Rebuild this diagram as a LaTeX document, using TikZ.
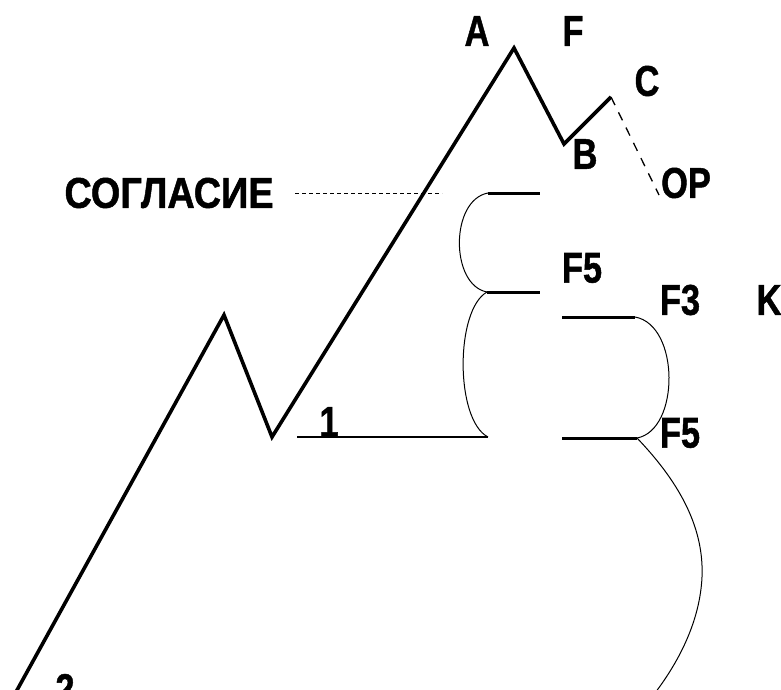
\documentclass[tikz,border=0pt]{standalone}
\usepackage{fontspec}
\setmainfont{Liberation Sans}[BoldFeatures={FakeBold=1.2}]
\begin{document}
\begin{tikzpicture}[x=1pt,y=-1pt,
  lbl/.style={inner sep=0pt, font=\bfseries\fontsize{43}{43}\selectfont},
  heavy/.style={line width=3.6pt, line join=miter, line cap=butt},
  bar/.style={line width=3pt},
  thinarc/.style={line width=1pt},
  baseln/.style={line width=1.6pt},
  dotline/.style={line width=0.9pt, dash pattern=on 4pt off 3pt},
  dashln/.style={line width=1.3pt, dash pattern=on 9pt off 8pt}]
\useasboundingbox (0,0) rectangle (781,690);
\clip (0,0) rectangle (781,690);
% main zigzag points
\coordinate (p0) at (11,701);
\coordinate (p1) at (224,315);
\coordinate (p2) at (272,437);
\coordinate (pA) at (514,48);
\coordinate (pB) at (564,144);
\coordinate (pC) at (611,97);
\coordinate (pOP) at (659,195);
% right structure points
\coordinate (t1l) at (488,193);
\coordinate (t1r) at (540,193);
\coordinate (t2l) at (487,292);
\coordinate (t2r) at (540,292);
\coordinate (b1l) at (297,437);
\coordinate (b1r) at (488,437);
\coordinate (f3l) at (562,317);
\coordinate (f3r) at (635,317);
\coordinate (f5l) at (562,438);
\coordinate (f5r) at (637,438);
\coordinate (bend) at (655,693);
\coordinate (sgl1) at (295,193);
\coordinate (sgl2) at (442,193);
% labels
\node[lbl] (lA) at (477,31) {\scalebox{0.8}[1]{A}};
\node[lbl] (lF) at (573,31) {\scalebox{0.8}[1]{F}};
\node[lbl] (lC) at (647,81) {\scalebox{0.8}[1]{C}};
\node[lbl] (lB) at (585,154) {\scalebox{0.8}[1]{B}};
\node[lbl] (lOP) at (686,183) {\scalebox{0.8}[1]{OP}};
\node[lbl] (lS) at (169,193) {\scalebox{0.88}[1]{СОГЛАСИЕ}};
\node[lbl] (lF5a) at (582,268) {\scalebox{0.8}[1]{F5}};
\node[lbl] (lF3) at (680,300) {\scalebox{0.8}[1]{F3}};
\node[lbl] (lK) at (769,300) {\scalebox{0.8}[1]{K}};
\node[lbl] (lF5b) at (680,433) {\scalebox{0.8}[1]{F5}};
\node[lbl] (l1) at (329,422) {\scalebox{0.8}[1]{1}};
\node[lbl] (l2) at (65,689) {\scalebox{0.8}[1]{2}};
% main zigzag
\draw[heavy] (p0) -- (p1) -- (p2) -- (pA) -- (pB) -- (pC);
\draw[dashln] (pC) -- (pOP);
\draw[dotline] (sgl1) -- (sgl2);
% bars
\draw[bar] (t1l) -- (t1r);
\draw[bar] (t2l) -- (t2r);
\draw[bar] (f3l) -- (f3r);
\draw[bar] (f5l) -- (f5r);
\draw[baseln] (b1l) -- (b1r);
% arcs
\draw[thinarc] (t1l) .. controls (450,200) and (450,285) .. (t2l);
\draw[thinarc] (t2l) .. controls (455,310) and (455,420) .. (b1r);
\draw[thinarc] (f3r) .. controls (680,325) and (680,430) .. (f5r);
\draw[thinarc] (f5r) .. controls (682,485) and (704,530) .. (702,577)
  .. controls (700,620) and (680,660) .. (bend);
\end{tikzpicture}
\end{document}
